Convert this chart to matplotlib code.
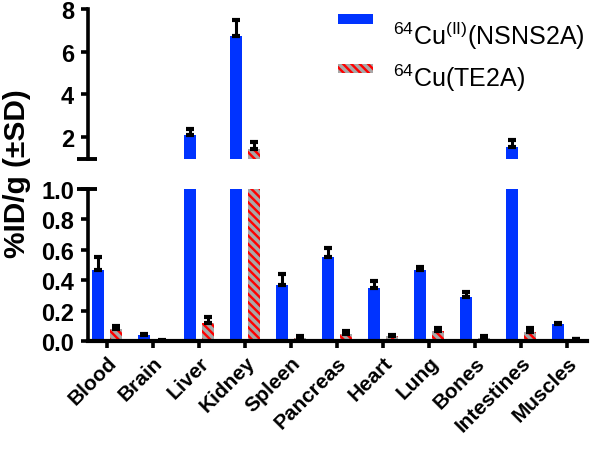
import matplotlib
matplotlib.use("Agg")
import matplotlib.pyplot as plt
import matplotlib.transforms as mtransforms
from matplotlib.patches import Rectangle
import numpy as np

categories = ["Blood", "Brain", "Liver", "Kidney", "Spleen", "Pancreas",
              "Heart", "Lung", "Bones", "Intestines", "Muscles"]
nsns2a = [0.47, 0.04, 2.09, 6.74, 0.37, 0.55, 0.35, 0.47, 0.29, 1.53, 0.11]
nsns2a_sd = [0.08, 0.005, 0.30, 0.75, 0.07, 0.06, 0.045, 0.015, 0.035, 0.33, 0.01]
te2a = [0.08, 0.003, 0.12, 1.44, 0.02, 0.045, 0.03, 0.065, 0.02, 0.06, 0.01]
te2a_sd = [0.02, 0.002, 0.035, 0.34, 0.01, 0.02, 0.01, 0.02, 0.01, 0.025, 0.005]
series_labels = [r'$^{64}$Cu$^{\mathrm{(II)}}$(NSNS2A)', r'$^{64}$Cu(TE2A)']

plt.rcParams['font.family'] = ['Liberation Sans', 'DejaVu Sans']
plt.rcParams['mathtext.fontset'] = 'custom'
plt.rcParams['mathtext.rm'] = 'Liberation Sans'
plt.rcParams['mathtext.it'] = 'Liberation Sans'
plt.rcParams['hatch.linewidth'] = 2.5
plt.rcParams['hatch.color'] = '#A8A8A8'

BLUE = '#0033FF'
RED = '#FF0000'
GRAY = '#A8A8A8'
FS = 17

fig = plt.figure(figsize=(6.0, 4.56), dpi=100)
ax_lo = fig.add_axes([0.1467, 0.25, 0.8317, 0.3333])
ax_hi = fig.add_axes([0.1467, 0.650, 0.8317, 0.328])

x = np.arange(len(categories))
w = 0.26
off = 0.2

for ax in (ax_lo, ax_hi):
    ax.bar(x - off, nsns2a, width=w, color=BLUE, linewidth=0)
    ax.bar(x + off, te2a, width=w, color=RED, hatch='\\\\\\\\',
           edgecolor=GRAY, linewidth=0)
    ax.errorbar(x - off, nsns2a, yerr=[np.zeros(len(x)), nsns2a_sd], fmt='none',
                ecolor='black', elinewidth=2.2, capsize=3, capthick=3)
    ax.errorbar(x + off, te2a, yerr=[np.zeros(len(x)), te2a_sd], fmt='none',
                ecolor='black', elinewidth=2.2, capsize=3, capthick=3)
    ax.set_xlim(-0.41, 10.43)
    for s in ('top', 'right'):
        ax.spines[s].set_visible(False)
    ax.spines['left'].set_linewidth(2.6)
    ax.spines['bottom'].set_linewidth(3.0)
    ax.tick_params(axis='x', width=2.6, length=5, labelsize=15)
    ax.tick_params(axis='y', width=2.6, length=5, labelsize=FS, pad=5)

ax_lo.set_ylim(0, 1.0)
ax_lo.set_yticks([0.0, 0.2, 0.4, 0.6, 0.8, 1.0])
ax_lo.set_yticklabels(['0.0', '0.2', '0.4', '0.6', '0.8', '1.0'], fontweight='bold', fontsize=FS)
ax_lo.set_xticks(x)
ax_lo.set_xticklabels(categories, rotation=45, ha='right', rotation_mode='anchor',
                      fontweight='bold', fontsize=15)

ax_hi.set_ylim(1, 8)
ax_hi.set_yticks([2, 4, 6, 8])
ax_hi.set_yticklabels(['2', '4', '6', '8'], fontweight='bold', fontsize=FS)
ax_hi.spines['bottom'].set_visible(False)
ax_hi.set_xticks([])

# break marks
for ax, yv in ((ax_hi, 1), (ax_lo, 1.0)):
    tr = mtransforms.blended_transform_factory(ax.transAxes, ax.transData)
    ax.plot([-0.022, 0.018], [yv, yv], color='black', lw=2.8, transform=tr,
            clip_on=False, solid_capstyle='butt')

fig.text(0.029, 0.6195, '%ID/g (±SD)', rotation=90, ha='center', va='center',
         fontsize=21.5, fontweight='bold')

# legend
fig.add_artist(Rectangle((0.5633, 0.9452), 0.0583, 0.0219, transform=fig.transFigure,
                         facecolor=BLUE, linewidth=0))
fig.add_artist(Rectangle((0.5633, 0.8377), 0.0583, 0.0197, transform=fig.transFigure,
                         facecolor=RED, edgecolor=GRAY, hatch='\\\\\\\\', linewidth=0))
fig.text(0.655, 0.9013, series_labels[0], fontsize=18, va='baseline', ha='left')
fig.text(0.655, 0.8092, series_labels[1], fontsize=18, va='baseline', ha='left')

fig.savefig('out.png', dpi=100)
